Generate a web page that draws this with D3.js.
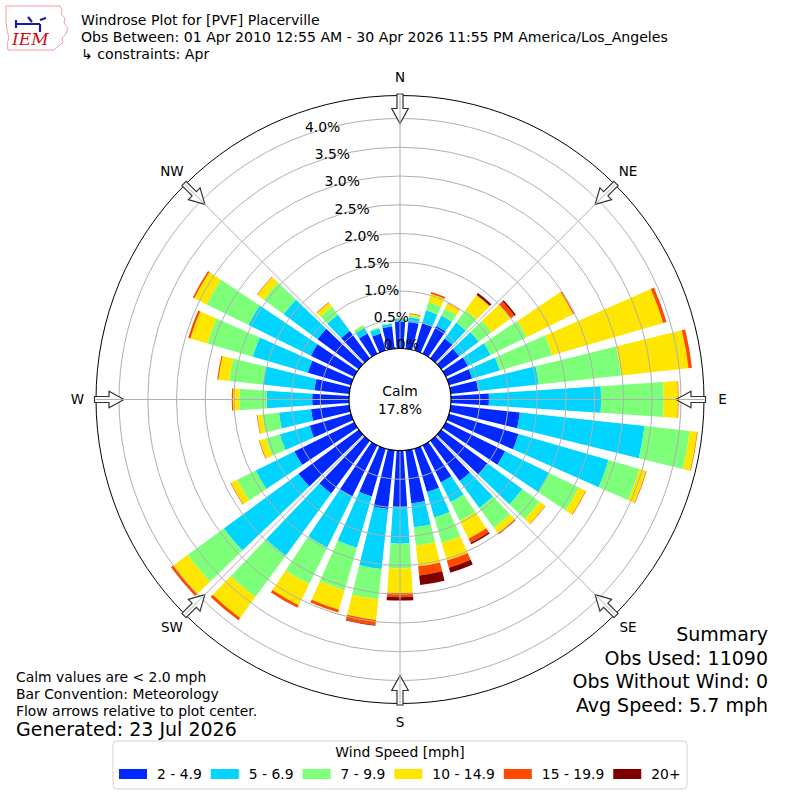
<!DOCTYPE html>
<html>
<head>
<meta charset="utf-8">
<script src="https://cdn.jsdelivr.net/npm/d3@7"></script>
<style>
  body { margin: 0; background: #fff; }
  text { font-family: "DejaVu Sans", sans-serif; fill: #000; }
</style>
</head>
<body>
<div id="chart"></div>
<script>
// direction of each bar (degrees, meteorological)
const directions = [0, 10, 20, 30, 40, 50, 60, 70, 80, 90, 100, 110,
  120, 130, 140, 150, 160, 170, 180, 190, 200, 210, 220, 230,
  240, 250, 260, 270, 280, 290, 300, 310, 320, 330, 340, 350];

const speedBins = ["2 - 4.9", "5 - 6.9", "7 - 9.9", "10 - 14.9", "15 - 19.9", "20+"];
const binColors = ["#0028ff", "#00d4ff", "#7dff7a", "#ffe600", "#ff4800", "#800000"];

// percent of obs per direction, one array per speed bin
const pct2to5 = [0.47, 0.47, 0.50, 0.54, 0.43, 0.39, 0.43, 0.42, 0.48, 0.66, 1.21, 1.26,
  1.15, 1.00, 0.87, 0.72, 0.79, 0.93, 0.98, 1.03, 0.87, 0.99, 1.14, 1.30,
  1.16, 0.75, 0.67, 0.64, 0.61, 0.78, 0.84, 0.89, 0.59, 0.39, 0.31, 0.39];
const pct5to7 = [0.05, 0.08, 0.23, 0.20, 0.34, 0.42, 0.44, 0.50, 1.06, 1.95, 2.18, 1.63,
  0.86, 0.75, 0.58, 0.38, 0.46, 0.42, 0.64, 1.05, 0.93, 0.99, 1.34, 1.61,
  0.75, 0.54, 0.56, 0.79, 0.90, 1.00, 1.21, 0.73, 0.35, 0.11, 0.09, 0.05];
const pct7to10 = [0.01, 0.03, 0.15, 0.14, 0.27, 0.28, 0.70, 0.95, 1.44, 1.09, 0.79, 0.56,
  0.57, 0.37, 0.43, 0.37, 0.46, 0.32, 0.43, 0.53, 0.77, 0.71, 0.89, 0.78,
  0.36, 0.25, 0.29, 0.48, 0.59, 0.82, 0.81, 0.43, 0.17, 0.05, 0.02, 0.01];
const pct10to15 = [0.00, 0.03, 0.15, 0.10, 0.32, 0.41, 0.90, 2.01, 1.18, 0.25, 0.13, 0.12,
  0.13, 0.12, 0.12, 0.34, 0.32, 0.36, 0.43, 0.36, 0.35, 0.41, 0.45, 0.31,
  0.12, 0.12, 0.09, 0.11, 0.19, 0.31, 0.24, 0.14, 0.09, 0.01, 0.00, 0.00];
const pct15to20 = [0.00, 0.01, 0.03, 0.01, 0.01, 0.08, 0.02, 0.06, 0.06, 0.01, 0.01, 0.01,
  0.01, 0.01, 0.02, 0.08, 0.13, 0.16, 0.07, 0.09, 0.05, 0.05, 0.05, 0.05,
  0.01, 0.01, 0.01, 0.02, 0.02, 0.04, 0.03, 0.01, 0.01, 0.00, 0.00, 0.00];
const pct20up = [0, 0, 0, 0, 0.04, 0.03, 0, 0, 0, 0, 0, 0,
  0, 0, 0, 0.03, 0.09, 0.17, 0.06, 0.01, 0, 0, 0, 0,
  0, 0, 0, 0, 0, 0, 0, 0, 0, 0, 0, 0];

const radialTicks = [0, 0.5, 1.0, 1.5, 2.0, 2.5, 3.0, 3.5, 4.0];
const compass = ["N", "NE", "E", "SE", "S", "SW", "W", "NW"];
const compassAngles = [0, 45, 90, 135, 180, 225, 270, 315];
const calmPct = 17.8;

const titleLines = ["Windrose Plot for [PVF] Placerville",
  "Obs Between: 01 Apr 2010 12:55 AM - 30 Apr 2026 11:55 PM America/Los_Angeles",
  "\u21b3 constraints: Apr"];
const noteLines = ["Calm values are < 2.0 mph", "Bar Convention: Meteorology",
  "Flow arrows relative to plot center."];
const summaryLines = ["Summary", "Obs Used: 11090", "Obs Without Wind: 0", "Avg Speed: 5.7 mph"];

const W = 800, H = 800;
const cx = 400, cy = 399.5;
const barWidth = 7.6; // degrees

const svg = d3.select("#chart").append("svg")
  .attr("width", W).attr("height", H);

const rad = d => d * Math.PI / 180;
const r = d3.scaleLinear().domain([0, 4.4]).range([51, 304]);

const series = [pct2to5, pct5to7, pct7to10, pct10to15, pct15to20, pct20up];
const rows = directions.map(function(d, i) {
  const row = { dir: d };
  speedBins.forEach(function(b, k) { row[b] = series[k][i]; });
  return row;
});
const stacked = d3.stack().keys(speedBins)(rows);

const g = svg.append("g").attr("transform", "translate(" + cx + "," + cy + ")");

const arc = d3.arc()
  .innerRadius(function(d) { return r(d[0]); })
  .outerRadius(function(d) { return r(d[1]); })
  .startAngle(function(d) { return rad(d.data.dir - barWidth / 2); })
  .endAngle(function(d) { return rad(d.data.dir + barWidth / 2); });

g.selectAll("g.layer")
  .data(stacked)
  .enter().append("g")
  .attr("class", "layer")
  .attr("fill", function(d, i) { return binColors[i]; })
  .selectAll("path")
  .data(function(d) { return d.filter(function(p) { return p[1] - p[0] > 0; }); })
  .enter().append("path")
  .attr("d", arc);

// rings
g.selectAll("circle.ring")
  .data(radialTicks.slice(1))
  .enter().append("circle")
  .attr("class", "ring")
  .attr("r", function(d) { return r(d); })
  .attr("fill", "none")
  .attr("stroke", "#b0b0b0")
  .attr("stroke-width", 1);

// outer circle
g.append("circle")
  .attr("r", r(4.4))
  .attr("fill", "none")
  .attr("stroke", "#000")
  .attr("stroke-width", 1);

// flow arrows
const R0 = r(4.4);
const arrowPts = [[-3, -R0 - 1.5], [3, -R0 - 1.5], [3, -R0 + 13], [8.3, -R0 + 13],
  [0, -R0 + 28], [-8.3, -R0 + 13], [-3, -R0 + 13]];
g.selectAll("path.arrow")
  .data(compassAngles)
  .enter().append("path")
  .attr("class", "arrow")
  .attr("d", "M" + arrowPts.map(function(p) { return p.join(","); }).join("L") + "Z")
  .attr("transform", function(d) { return "rotate(" + d + ")"; })
  .attr("fill", "#fff")
  .attr("stroke", "#333")
  .attr("stroke-width", 1.2);

// radial grid lines
g.selectAll("line.spoke")
  .data(compassAngles)
  .enter().append("line")
  .attr("class", "spoke")
  .attr("x1", function(d) { return r(0) * Math.sin(rad(d)); })
  .attr("y1", function(d) { return -r(0) * Math.cos(rad(d)); })
  .attr("x2", function(d) { return R0 * Math.sin(rad(d)); })
  .attr("y2", function(d) { return -R0 * Math.cos(rad(d)); })
  .attr("stroke", "#b0b0b0")
  .attr("stroke-width", 1);

// calm circle
g.append("circle")
  .attr("r", r(0))
  .attr("fill", "#fff")
  .attr("stroke", "#000")
  .attr("stroke-width", 1.2);
g.append("text").attr("x", 0).attr("y", -4).attr("text-anchor", "middle")
  .style("font-size", "13.9px").text("Calm");
g.append("text").attr("x", 0).attr("y", 14).attr("text-anchor", "middle")
  .style("font-size", "13.9px").text(calmPct.toFixed(1) + "%");

// radial tick labels
const labelAngle = rad(-20);
g.selectAll("text.rtick")
  .data(radialTicks)
  .enter().append("text")
  .attr("class", "rtick")
  .attr("x", function(d) { return r(d) * Math.sin(labelAngle) + 1; })
  .attr("y", function(d) { return -r(d) * Math.cos(labelAngle) - 3; })
  .style("font-size", "13.9px")
  .text(function(d) { return d.toFixed(1) + "%"; });

// compass labels
g.selectAll("text.dir")
  .data(compass)
  .enter().append("text")
  .attr("class", "dir")
  .attr("x", function(d, i) { return 322.5 * Math.sin(rad(compassAngles[i])); })
  .attr("y", function(d, i) { return -322.5 * Math.cos(rad(compassAngles[i])); })
  .attr("text-anchor", "middle")
  .attr("dy", "0.36em")
  .style("font-size", "13.5px")
  .text(function(d) { return d; });

// title
svg.selectAll("text.title")
  .data(titleLines)
  .enter().append("text")
  .attr("class", "title")
  .attr("x", 81)
  .attr("y", function(d, i) { return 25 + i * 17; })
  .style("font-size", "14.1px")
  .text(function(d) { return d; });

// logo
const logo = svg.append("g").attr("transform", "translate(4,4)");
logo.append("path")
  .attr("d", "M2,2 L56,2 L58,6 L57,10 L61,14 L60,19 L64,24 L62,30 L58,34 L59,38 L55,42 L52,44 L50,46 L4,46 L3,40 L5,34 L3,26 L2,18 Z")
  .attr("fill", "none").attr("stroke", "#f0a0a0").attr("stroke-width", 1);
logo.append("path")
  .attr("d", "M12,20 L36,20 M36,20 L36,28 M24,13 L28,18 M12,16 L12,24 M36,16 L42,14")
  .attr("fill", "none").attr("stroke", "#1a1aa8").attr("stroke-width", 2.2);
logo.append("text")
  .attr("x", 8).attr("y", 41)
  .style("font-family", "'DejaVu Serif', serif")
  .style("font-style", "italic")
  .style("font-size", "17px")
  .style("fill", "#d01010")
  .text("IEM");

// notes bottom left
svg.selectAll("text.note")
  .data(noteLines)
  .enter().append("text")
  .attr("class", "note")
  .attr("x", 16)
  .attr("y", function(d, i) { return 682 + i * 17; })
  .style("font-size", "13.9px")
  .text(function(d) { return d; });
svg.append("text").attr("x", 16).attr("y", 736)
  .style("font-size", "19px").text("Generated: 23 Jul 2026");

// summary bottom right
svg.selectAll("text.summary")
  .data(summaryLines)
  .enter().append("text")
  .attr("class", "summary")
  .attr("x", 768)
  .attr("y", function(d, i) { return 641 + i * 23.7; })
  .attr("text-anchor", "end")
  .style("font-size", "19px")
  .text(function(d) { return d; });

// legend
const legend = svg.append("g");
legend.append("rect")
  .attr("x", 113).attr("y", 741).attr("width", 574).attr("height", 48)
  .attr("rx", 4).attr("fill", "#fff").attr("stroke", "#d0d0d0");
legend.append("text").attr("x", 400).attr("y", 757).attr("text-anchor", "middle")
  .style("font-size", "13.9px").text("Wind Speed [mph]");
let lx = 119;
speedBins.forEach(function(b, i) {
  legend.append("rect").attr("x", lx).attr("y", 769).attr("width", 28).attr("height", 10)
    .attr("fill", binColors[i]);
  const t = legend.append("text").attr("x", lx + 38).attr("y", 779)
    .style("font-size", "13.9px").text(b);
  lx += 38 + t.node().getComputedTextLength() + 9;
});
</script>
</body>
</html>
